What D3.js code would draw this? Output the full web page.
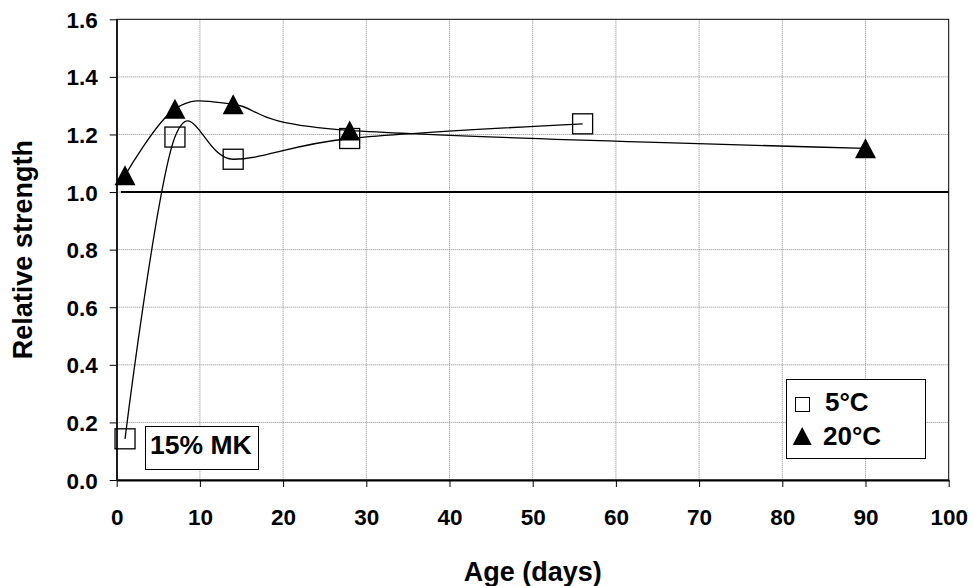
<!DOCTYPE html>
<html><head><meta charset="utf-8">
<script src="https://cdn.jsdelivr.net/npm/d3@7"></script>
<style>body{margin:0;background:#fff}svg{display:block}</style>
</head><body><svg id="c" width="974" height="586"></svg>
<script>
const xTicks=[0,10,20,30,40,50,60,70,80,90,100];
const yTicks=[0,0.2,0.4,0.6,0.8,1.0,1.2,1.4,1.6];
const days5=[1,7,14,28,56];
const strength5=[0.143,1.191,1.114,1.186,1.237];
const days20=[1,7,14,28,90];
const strength20=[1.058,1.289,1.305,1.214,1.152];
const refDays=[0.5,100];
const refValue=[1,1];
const seriesNames=["5°C","20°C"];
const annotation="15% MK";
const xTitle="Age (days)";
const yTitle="Relative strength";

const svg=d3.select("#c");
const FONT="'Liberation Sans', Arial, sans-serif";
const L=116.7,R=948.7,T=19.3,B=480;
const x=d3.scaleLinear().domain([0,100]).range([L,R]);
const y=d3.scaleLinear().domain([0,1.6]).range([B,T]);

// grid
const g=svg.append("g");
g.selectAll(".vg").data(xTicks.slice(1,-1)).enter().append("line")
 .attr("x1",d=>x(d)).attr("x2",d=>x(d)).attr("y1",T).attr("y2",B)
 .attr("stroke","#888").attr("stroke-width",1).attr("stroke-dasharray","1,1");
g.selectAll(".hg").data(yTicks.slice(1,-1)).enter().append("line")
 .attr("x1",L).attr("x2",R).attr("y1",d=>y(d)).attr("y2",d=>y(d))
 .attr("stroke","#888").attr("stroke-width",1).attr("stroke-dasharray","1,1");

// frame
svg.append("rect").attr("x",L).attr("y",T).attr("width",R-L).attr("height",B-T)
 .attr("fill","none").attr("stroke","#000").attr("stroke-width",1);

// axes
const xAxis=d3.axisBottom(x).tickValues(xTicks).tickSize(7).tickSizeOuter(0).tickFormat(d3.format("d"));
const xa=svg.append("g").attr("transform",`translate(0,${B})`).call(xAxis);
xa.select(".domain").attr("stroke","#000").attr("stroke-width",2);
xa.selectAll(".tick line").attr("stroke","#000");
xa.selectAll(".tick text").attr("y",45).attr("dy",0).attr("font-family",FONT)
 .attr("font-weight","bold").attr("font-size",22.5).attr("fill","#000");
const yAxis=d3.axisLeft(y).tickValues(yTicks).tickSize(7).tickSizeOuter(0).tickFormat(d3.format(".1f"));
const ya=svg.append("g").attr("transform",`translate(${L},0)`).call(yAxis);
ya.select(".domain").attr("stroke","#000").attr("stroke-width",1.3);
ya.selectAll(".tick line").attr("stroke","#000");
ya.selectAll(".tick text").attr("x",-19).attr("dy","0.36em").attr("font-family",FONT)
 .attr("font-weight","bold").attr("font-size",22.5).attr("fill","#000");

// reference line at 1.0
const refLine=d3.line().x((d,i)=>x(refDays[i])).y(d=>y(d));
svg.append("path").attr("d",refLine(refValue)).attr("fill","none")
 .attr("stroke","#000").attr("stroke-width",2);

// series (smoothed like a spreadsheet scatter line)
const line=d3.line().x(d=>x(d[0])).y(d=>y(d[1])).curve(d3.curveCardinal.tension(0));
const pts5=days5.map((d,i)=>[d,strength5[i]]);
const pts20=days20.map((d,i)=>[d,strength20[i]]);
svg.append("path").attr("d",line(pts5)).attr("fill","none").attr("stroke","#000").attr("stroke-width",1.3);
svg.append("path").attr("d",line(pts20)).attr("fill","none").attr("stroke","#000").attr("stroke-width",1.3);

function tri(cx,cy,w,h){return `M${cx},${cy-h/2}L${cx+w/2},${cy+h/2}L${cx-w/2},${cy+h/2}Z`;}
svg.selectAll(".sq").data(pts5).enter().append("rect")
 .attr("x",d=>x(d[0])-10).attr("y",d=>y(d[1])-10).attr("width",20).attr("height",20)
 .attr("fill","none").attr("stroke","#000").attr("stroke-width",1.3);
svg.selectAll(".tr").data(pts20).enter().append("path")
 .attr("d",d=>tri(x(d[0]),y(d[1]),21,20)).attr("fill","#000");

// annotation
svg.append("rect").attr("x",145.5).attr("y",426.5).attr("width",113).attr("height",43)
 .attr("fill","#fff").attr("stroke","#000").attr("stroke-width",1);
svg.append("text").attr("x",150).attr("y",453.5).attr("font-family",FONT).attr("font-weight","bold")
 .attr("font-size",26.5).text(annotation);

// legend
svg.append("rect").attr("x",786.5).attr("y",379.5).attr("width",139).attr("height",79)
 .attr("fill","#fff").attr("stroke","#000").attr("stroke-width",1);
svg.append("rect").attr("x",795.5).attr("y",397.5).attr("width",14).attr("height",14)
 .attr("fill","none").attr("stroke","#000").attr("stroke-width",1);
svg.append("text").attr("x",825).attr("y",411).attr("font-family",FONT).attr("font-weight","bold")
 .attr("font-size",26).text(seriesNames[0]);
svg.append("path").attr("d",tri(802.2,436,19,18)).attr("fill","#000");
svg.append("text").attr("x",823).attr("y",445).attr("font-family",FONT).attr("font-weight","bold")
 .attr("font-size",26).text(seriesNames[1]);

// titles
svg.append("text").attr("x",(L+R)/2).attr("y",581).attr("text-anchor","middle")
 .attr("font-family",FONT).attr("font-weight","bold").attr("font-size",27).text(xTitle);
svg.append("text").attr("transform",`translate(31.5,${(T+B)/2}) rotate(-90)`).attr("text-anchor","middle")
 .attr("font-family",FONT).attr("font-weight","bold").attr("font-size",27).text(yTitle);
</script></body></html>
